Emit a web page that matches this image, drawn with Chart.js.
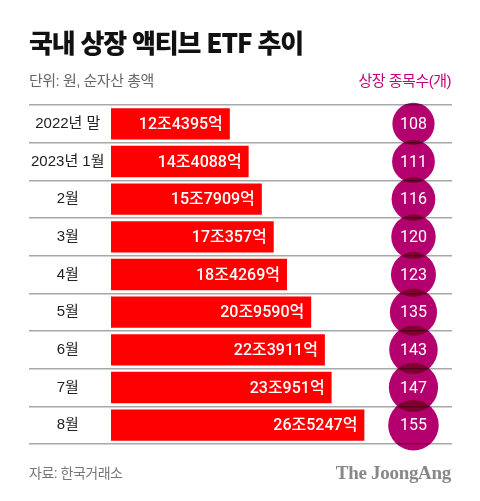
<!DOCTYPE html>
<html lang="ko">
<head>
<meta charset="utf-8">
<script src="https://cdn.jsdelivr.net/npm/chart.js@4"></script>
<style>
  body { margin: 0; background: #fff; }
  #wrap { position: relative; width: 480px; height: 501px; font-family: 'Liberation Sans', 'Noto Sans CJK KR', sans-serif; }
  #wrap canvas { position: absolute; left: 0; top: 0; }
  .txt { position: absolute; white-space: nowrap; }
  #title { left: 29px; top: 26px; font-family: 'Noto Sans CJK KR', sans-serif; font-size: 26px; line-height: 32px; font-weight: 900; color: #111; letter-spacing: -1.2px; }
  #unit { left: 29px; top: 70px; font-size: 15px; line-height: 22px; color: #666; letter-spacing: -0.5px; }
  #count { right: 29px; top: 70px; font-size: 15px; line-height: 22px; color: #c4007c; letter-spacing: -0.5px; }
  #src { left: 29px; top: 462px; font-size: 14px; line-height: 22px; color: #777; letter-spacing: -0.5px; }
  #brand { right: 29px; top: 460px; font-family: 'Liberation Serif', 'DejaVu Serif', serif; font-size: 19px; line-height: 26px; font-weight: 700; color: #888; letter-spacing: -0.3px; }
</style>
</head>
<body>
<div id="wrap">
  <canvas id="chart" width="480" height="501"></canvas>
  <div class="txt" id="title">국내 상장 액티브 ETF 추이</div>
  <div class="txt" id="unit">단위: 원, 순자산 총액</div>
  <div class="txt" id="count">상장 종목수(개)</div>
  <div class="txt" id="src">자료: 한국거래소</div>
  <div class="txt" id="brand">The JoongAng</div>
</div>
<script>
// 데이터 (순자산 총액: 억원 단위, 상장 종목수: 개)
const months = ["2022년 말", "2023년 1월", "2월", "3월", "4월", "5월", "6월", "7월", "8월"];
const netAssets = [124395, 144088, 157909, 170357, 184269, 209590, 223911, 230951, 265247];
const listedCount = [108, 111, 116, 120, 123, 135, 143, 147, 155];

const labelFont = "Roboto, 'Noto Sans CJK KR'";

// 12조4395억 형태로 표시
function formatWon(v) {
  return Math.floor(v / 10000) + "조" + (v % 10000) + "억";
}

// 종목수 원은 면적 비례
const bubbleData = months.map((m, i) => ({ x: 0.887, y: m, r: 2.03 * Math.sqrt(listedCount[i]) }));

// 원이 겹치는 부분을 진하게 (multiply)
const multiplyBubbles = {
  id: "multiplyBubbles",
  beforeDatasetDraw(chart, args) {
    if (args.index === 1) {
      chart.ctx.save();
      chart.ctx.globalCompositeOperation = "multiply";
    }
  },
  afterDatasetDraw(chart, args) {
    if (args.index === 1) chart.ctx.restore();
  }
};

// 막대 안과 원 안의 숫자
const valueLabels = {
  id: "valueLabels",
  afterDatasetsDraw(chart) {
    const ctx = chart.ctx;
    ctx.save();
    ctx.fillStyle = "#fff";
    ctx.textBaseline = "middle";
    ctx.font = "500 16px " + labelFont;
    ctx.textAlign = "right";
    chart.getDatasetMeta(0).data.forEach((bar, i) => {
      ctx.fillText(formatWon(netAssets[i]), bar.x - 7, bar.y + 1);
    });
    ctx.textAlign = "center";
    ctx.font = "16px " + labelFont;
    chart.getDatasetMeta(1).data.forEach((pt, i) => {
      ctx.fillText(listedCount[i], pt.x, pt.y + 1);
    });
    ctx.restore();
  }
};

new Chart(document.getElementById("chart"), {
  type: "bar",
  data: {
    labels: months,
    datasets: [
      {
        type: "bar",
        data: netAssets,
        backgroundColor: "#ff0000",
        borderWidth: 0,
        barPercentage: 0.83,
        categoryPercentage: 1,
        xAxisID: "x",
        yAxisID: "y"
      },
      {
        type: "bubble",
        data: bubbleData,
        backgroundColor: "#b4006e",
        borderWidth: 0,
        clip: false,
        xAxisID: "x2",
        yAxisID: "y"
      }
    ]
  },
  options: {
    indexAxis: "y",
    responsive: false,
    animation: false,
    layout: { padding: { left: 29, right: 28, top: 105, bottom: 57 } },
    plugins: { legend: { display: false }, tooltip: { enabled: false } },
    scales: {
      x: { type: "linear", min: 0, max: 357000, display: false },
      x2: { type: "linear", axis: "x", min: 0, max: 1, display: false },
      y: {
        type: "category",
        offset: true,
        border: { display: false },
        grid: { offset: true, color: "#a8a8a8", lineWidth: 1.5, drawTicks: true, tickLength: 82 },
        ticks: {
          autoSkip: false,
          crossAlign: "center",
          padding: -75.5,
          color: "#222",
          font: { family: "'Liberation Sans', 'Noto Sans CJK KR'", size: 15 }
        },
        afterFit(scale) { scale.width = 82; }
      }
    }
  },
  plugins: [multiplyBubbles, valueLabels]
});
</script>
</body>
</html>
